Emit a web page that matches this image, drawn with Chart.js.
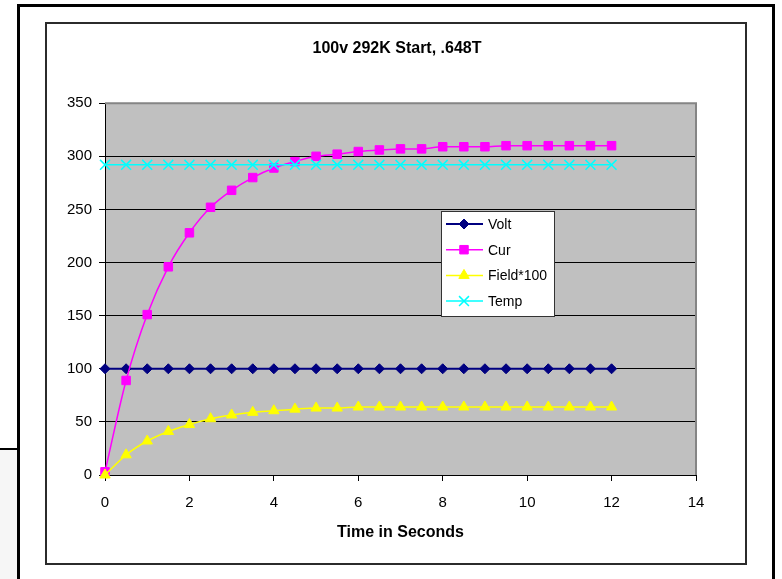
<!DOCTYPE html>
<html lang="en">
<head>
    <meta charset="UTF-8">
    <title>100v 292K Start, .648T</title>
    <script src="https://cdn.jsdelivr.net/npm/chart.js@4"></script>
    <style>
        body { margin: 0; background: #fff; overflow: hidden; font-family: 'Liberation Sans', Arial, sans-serif; }
        #outer { position: absolute; left: 17px; top: 4px; width: 758px; height: 700px; box-sizing: border-box; border: 3px solid #000; border-bottom: none; }
        #corner { position: absolute; left: 0; top: 448px; width: 17px; height: 131px; box-sizing: border-box; border-top: 2px solid #000; background: #f6f6f6; }
        #inner { position: absolute; left: 45px; top: 22px; width: 702px; height: 543px; box-sizing: border-box; border: 2px solid #2b2b2b; }
        canvas { position: absolute; left: 0; top: 0; }
    </style>
</head>
<body>
    <div id="outer"></div>
    <div id="corner"></div>
    <div id="inner"></div>
    <canvas id="chart" width="782" height="579"></canvas>

    <script>
        // values
        const times = [0, 0.5, 1, 1.5, 2, 2.5, 3, 3.5, 4, 4.5, 5, 5.5, 6, 6.5, 7, 7.5, 8, 8.5, 9, 9.5, 10, 10.5, 11, 11.5, 12];
        const volt  = [100, 100, 100, 100, 100, 100, 100, 100, 100, 100, 100, 100, 100, 100, 100, 100, 100, 100, 100, 100, 100, 100, 100, 100, 100];
        const cur   = [3, 89, 151, 196, 228, 252, 268, 280, 289, 295, 300, 302, 304.5, 306, 307, 307, 309, 309, 309, 310, 310, 310, 310, 310, 310];
        const field = [0, 19, 32, 41, 47.5, 53, 56.5, 59, 60.5, 62, 63, 63, 64, 64, 64, 64, 64, 64, 64, 64, 64, 64, 64, 64, 64];
        const temp  = [292, 292, 292, 292, 292, 292, 292, 292, 292, 292, 292, 292, 292, 292, 292, 292, 292, 292, 292, 292, 292, 292, 292, 292, 292];
        const seriesNames = ['Volt', 'Cur', 'Field*100', 'Temp'];
        const xMin = 0, xMax = 14, xStep = 2;
        const yMin = 0, yMax = 350, yStep = 50;

        function pts(values) {
            return times.map((t, i) => ({ x: t, y: values[i] }));
        }

        Chart.defaults.font.family = "'Liberation Sans', Arial, sans-serif";
        Chart.defaults.color = '#000';

        // grey plot area + its border
        const plotArea = {
            id: 'plotArea',
            beforeDraw(chart) {
                const { ctx, chartArea: a } = chart;
                ctx.save();
                ctx.fillStyle = '#c0c0c0';
                ctx.fillRect(a.left, a.top, a.right - a.left, a.bottom - a.top);
                ctx.restore();
            },
            beforeDatasetsDraw(chart) {
                const { ctx, chartArea: a } = chart;
                ctx.save();
                ctx.strokeStyle = '#858585';
                ctx.lineWidth = 2;
                ctx.beginPath();
                ctx.moveTo(a.left, a.top);
                ctx.lineTo(a.right, a.top);
                ctx.lineTo(a.right, a.bottom);
                ctx.stroke();
                ctx.restore();
            }
        };

        function drawMarker(ctx, style, x, y, r) {
            ctx.beginPath();
            if (style === 'rectRot') {
                ctx.moveTo(x, y - r); ctx.lineTo(x + r, y); ctx.lineTo(x, y + r); ctx.lineTo(x - r, y);
                ctx.closePath(); ctx.fill(); ctx.stroke();
            } else if (style === 'rect') {
                const s = r * Math.SQRT1_2;
                ctx.rect(x - s, y - s, 2 * s, 2 * s); ctx.fill(); ctx.stroke();
            } else if (style === 'triangle') {
                ctx.moveTo(x, y - r);
                ctx.lineTo(x + r * 0.866, y + r * 0.5);
                ctx.lineTo(x - r * 0.866, y + r * 0.5);
                ctx.closePath(); ctx.fill(); ctx.stroke();
            } else if (style === 'crossRot') {
                const d = r * Math.SQRT1_2;
                ctx.moveTo(x - d, y - d); ctx.lineTo(x + d, y + d);
                ctx.moveTo(x + d, y - d); ctx.lineTo(x - d, y + d);
                ctx.stroke();
            }
        }

        // boxed legend sitting inside the plot
        const boxLegend = {
            id: 'boxLegend',
            afterDraw(chart) {
                const ctx = chart.ctx;
                const bx = 441, by = 211, bw = 113, bh = 105;
                ctx.save();
                ctx.fillStyle = '#fff';
                ctx.fillRect(bx, by, bw, bh);
                ctx.strokeStyle = '#333';
                ctx.lineWidth = 1;
                ctx.strokeRect(bx + 0.5, by + 0.5, bw, bh);
                ctx.font = "14px 'Liberation Sans', Arial, sans-serif";
                ctx.textBaseline = 'middle';
                chart.data.datasets.forEach((ds, i) => {
                    const y = by + 13 + i * 25.7;
                    ctx.strokeStyle = ds.borderColor;
                    ctx.fillStyle = ds.backgroundColor;
                    ctx.lineWidth = ds.borderWidth;
                    ctx.beginPath();
                    ctx.moveTo(bx + 5, y);
                    ctx.lineTo(bx + 42, y);
                    ctx.stroke();
                    ctx.lineWidth = ds.pointBorderWidth;
                    drawMarker(ctx, ds.pointStyle, bx + 23, y, ds.pointRadius);
                    ctx.fillStyle = '#000';
                    ctx.fillText(ds.label, bx + 47, y + 1);
                });
                ctx.restore();
            }
        };

        new Chart(document.getElementById('chart').getContext('2d'), {
            type: 'line',
            data: {
                datasets: [{
                    label: seriesNames[0],
                    data: pts(volt),
                    borderColor: '#000080',
                    backgroundColor: '#000080',
                    borderWidth: 2,
                    pointStyle: 'rectRot',
                    pointRadius: 5,
                    pointBorderWidth: 1,
                    order: 4,
                    clip: false
                }, {
                    label: seriesNames[1],
                    data: pts(cur),
                    borderColor: '#ff00ff',
                    backgroundColor: '#ff00ff',
                    borderWidth: 1.5,
                    pointStyle: 'rect',
                    pointRadius: 6,
                    pointBorderWidth: 1,
                    cubicInterpolationMode: 'monotone',
                    order: 3,
                    clip: false
                }, {
                    label: seriesNames[2],
                    data: pts(field),
                    borderColor: '#ffff00',
                    backgroundColor: '#ffff00',
                    borderWidth: 1.5,
                    pointStyle: 'triangle',
                    pointRadius: 6,
                    pointBorderWidth: 1,
                    cubicInterpolationMode: 'monotone',
                    order: 2,
                    clip: false
                }, {
                    label: seriesNames[3],
                    data: pts(temp),
                    borderColor: '#00ffff',
                    backgroundColor: '#00ffff',
                    borderWidth: 1.5,
                    pointStyle: 'crossRot',
                    pointRadius: 7,
                    pointBorderWidth: 1.5,
                    order: 1,
                    clip: false
                }]
            },
            options: {
                responsive: false,
                animation: false,
                layout: { padding: { left: 45, right: 33, top: 22, bottom: 14 } },
                plugins: {
                    legend: { display: false },
                    tooltip: { enabled: false },
                    title: {
                        display: true,
                        text: '100v 292K Start, .648T',
                        color: '#000',
                        font: { size: 16, weight: 'bold' },
                        padding: { top: 17, bottom: 45 }
                    }
                },
                scales: {
                    x: {
                        type: 'linear',
                        min: xMin,
                        max: xMax,
                        afterFit(scale) { scale.height = 90; },
                        ticks: { stepSize: xStep, padding: 13, maxRotation: 0, color: '#000', font: { size: 15 } },
                        grid: { drawOnChartArea: false, drawTicks: true, tickLength: 6, color: '#000' },
                        border: { display: true, color: '#000', width: 1 },
                        title: {
                            display: true,
                            text: 'Time in Seconds',
                            color: '#000',
                            font: { size: 16, weight: 'bold' },
                            padding: { top: 0, bottom: 23 }
                        }
                    },
                    y: {
                        min: yMin,
                        max: yMax,
                        afterFit(scale) { scale.width = 60; },
                        ticks: { stepSize: yStep, padding: 7, color: '#000', font: { size: 15 } },
                        grid: {
                            drawTicks: true,
                            tickLength: 6,
                            tickColor: '#000',
                            color: c => (c.tick && c.tick.value === yMax) ? 'rgba(0,0,0,0)' : '#000'
                        },
                        border: { display: true, color: '#000', width: 1 }
                    },
                    // empty strip on the right so the title centres on the frame
                    spacer: {
                        position: 'right',
                        afterFit(scale) { scale.width = 53; },
                        ticks: { display: false },
                        grid: { display: false },
                        border: { display: false }
                    }
                }
            },
            plugins: [plotArea, boxLegend]
        });
    </script>
</body>
</html>
